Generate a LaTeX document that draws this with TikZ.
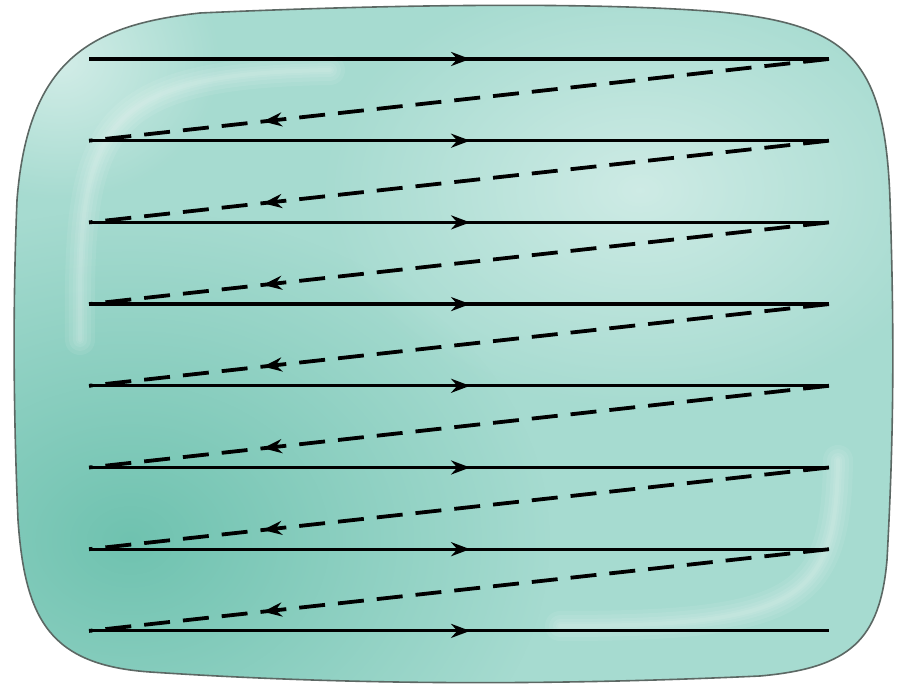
\documentclass[tikz,border=0pt]{standalone}
\usetikzlibrary{decorations.markings,arrows.meta,fadings}
\definecolor{screenbase}{RGB}{166,219,208}
\definecolor{screendark}{RGB}{88,184,162}
\definecolor{screenedge}{RGB}{92,104,100}
\tikzfading[name=radfade, inner color=transparent!0, outer color=transparent!100]
\begin{document}
\begin{tikzpicture}[x=1pt,y=-1pt,
  scanline/.style={line width=3.2pt, line cap=butt, postaction={decorate},
    decoration={markings, mark=at position 0.515 with {\arrow{Stealth[length=19pt,width=14pt]}}}},
  retrace/.style={line width=3.8pt, dash pattern=on 26pt off 13pt, postaction={decorate},
    decoration={markings, mark=at position 0.765 with {\arrow[solid]{Stealth[length=19pt,width=14pt]}}}},
  glow/.style={white, line width=#1, opacity=0.08, line cap=round, line join=round}]
\useasboundingbox (0,0) rectangle (898,684);
\def\screenpath{(17,200) .. controls (28,60) and (90,25) .. (200,13)
  .. controls (400,4) and (600,2) .. (720,12)
  .. controls (850,25) and (885,60) .. (890,200)
  .. controls (895,350) and (893,450) .. (887,560)
  .. controls (880,640) and (850,668) .. (760,676)
  .. controls (500,688) and (300,682) .. (150,672)
  .. controls (50,665) and (25,620) .. (18,520)
  .. controls (13,400) and (13,300) .. (17,200) -- cycle}
\fill[screenbase] \screenpath;
\begin{scope}
  \clip \screenpath;
  \fill[screendark, path fading=radfade, fill opacity=0.7] (130,540) ellipse[x radius=420, y radius=330];
  \fill[white, path fading=radfade, fill opacity=0.45] (640,190) ellipse[x radius=320, y radius=220];
  \fill[white, path fading=radfade, fill opacity=0.5] (60,60) ellipse[x radius=160, y radius=140];
  \foreach \w in {30,22,14,8,4}
    \draw[glow=\w pt] (80,340) .. controls (78,130) and (92,74) .. (330,70);
  \foreach \w in {30,22,14,8,4}
    \draw[glow=\w pt] (560,626) .. controls (800,626) and (836,600) .. (838,460);
\end{scope}
\draw[screenedge, line width=1.6pt] \screenpath;
% scan line end points
\foreach \i [evaluate=\i as \yy using 59+(\i-1)*81.7] in {1,...,8} {
  \coordinate (L\i) at (89,\yy);
  \coordinate (R\i) at (829,\yy);
}
\foreach \i in {1,...,8}
  \draw[scanline] (L\i) -- (R\i);
\foreach \i [evaluate=\i as \j using int(\i+1)] in {1,...,7}
  \draw[retrace] (R\i) -- (L\j);
\end{tikzpicture}
\end{document}
